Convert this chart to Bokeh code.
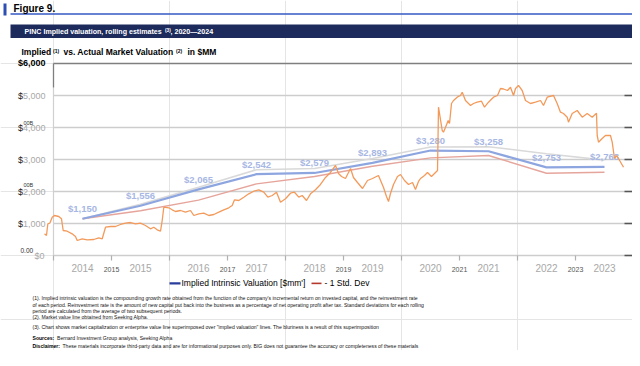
from bokeh.plotting import figure
from bokeh.models import Range1d, Label, BoxAnnotation, ColumnDataSource
from bokeh.core.properties import value
from bokeh.embed import file_html
from bokeh.resources import INLINE

# ---------------- data ----------------
years = ["2014", "2015", "2016", "2017", "2018", "2019", "2020", "2021", "2022", "2023"]
implied = [1150, 1556, 2065, 2542, 2579, 2893, 3280, 3258, 2753, 2768]
minus_sd = [1150, 1400, 1730, 2240, 2470, 2790, 3050, 3125, 2570, 2600]
blur_line = [1150, 1600, 2130, 2680, 2720, 3030, 3390, 3400, 3180, 2980]

mv_date = [2013.845, 2013.879, 2013.902, 2013.936, 2013.978, 2014.017, 2014.091, 2014.138, 2014.167, 2014.236,
           2014.322, 2014.379, 2014.409, 2014.495, 2014.581, 2014.695, 2014.781, 2014.840, 2014.897, 2014.983,
           2015.069, 2015.155, 2015.241, 2015.328, 2015.414, 2015.500, 2015.586, 2015.672, 2015.729, 2015.788,
           2015.845, 2015.874, 2015.902, 2015.988, 2016.047, 2016.103, 2016.190, 2016.276, 2016.362, 2016.419,
           2016.505, 2016.591, 2016.678, 2016.764, 2016.850, 2016.936, 2017.022, 2017.081, 2017.121, 2017.195,
           2017.281, 2017.367, 2017.453, 2017.540, 2017.626, 2017.695, 2017.771, 2017.845, 2017.914, 2018.000,
           2018.086, 2018.155, 2018.229, 2018.288, 2018.362, 2018.431, 2018.517, 2018.603, 2018.690, 2018.776,
           2018.862, 2018.914, 2018.966, 2019.034, 2019.121, 2019.172, 2019.241, 2019.328, 2019.414, 2019.500,
           2019.603, 2019.690, 2019.741, 2019.776, 2019.810, 2019.862, 2019.931, 2019.983, 2020.052, 2020.121,
           2020.190, 2020.241, 2020.293, 2020.328, 2020.397, 2020.448, 2020.517, 2020.569, 2020.621, 2020.638,
           2020.702, 2020.724, 2020.759, 2020.805, 2020.828, 2020.862, 2020.897, 2020.960, 2021.017, 2021.047,
           2021.103, 2021.190, 2021.241, 2021.305, 2021.379, 2021.431, 2021.500, 2021.586, 2021.655, 2021.707,
           2021.759, 2021.828, 2021.879, 2021.931, 2021.966, 2022.017, 2022.081, 2022.138, 2022.224, 2022.310,
           2022.397, 2022.448, 2022.512, 2022.621, 2022.684, 2022.741, 2022.793, 2022.857, 2022.879, 2022.943,
           2023.029, 2023.116, 2023.202, 2023.288, 2023.362, 2023.374, 2023.397, 2023.460, 2023.517, 2023.603,
           2023.633, 2023.672, 2023.707, 2023.741, 2023.828]
mv_value = [678, 625, 990, 1010, 1197, 1250, 1219, 1147, 781, 759,
            678, 594, 469, 522, 491, 500, 553, 522, 884, 906,
            906, 969, 1009, 1031, 991, 1009, 938, 834, 884, 803,
            759, 1094, 1509, 1491, 1428, 1375, 1406, 1353, 1406, 1250,
            1303, 1322, 1250, 1281, 1353, 1428, 1491, 1562, 1741, 1719,
            1822, 1928, 2009, 2053, 1978, 1822, 1875, 1978, 1666, 1772,
            1947, 1978, 1822, 1875, 1719, 1928, 2053, 2219, 2438, 2594,
            2813, 2563, 2469, 2406, 2719, 2438, 2281, 2094, 2344, 2406,
            2500, 2125, 1844, 1688, 1938, 2219, 2469, 2531, 2344, 2219,
            2281, 2063, 2313, 2406, 2500, 2594, 2469, 2563, 2656, 4634,
            3906, 3853, 4009, 4219, 4125, 4750, 4844, 4947, 5000, 5103,
            4844, 4688, 4750, 4791, 4822, 4634, 4791, 4947, 5000, 5219,
            5203, 5156, 5259, 5000, 5219, 5313, 5156, 4844, 4750, 4791,
            4844, 4688, 4947, 5000, 4750, 4478, 4438, 4322, 4166, 4438,
            4531, 4322, 4438, 4322, 4447, 3750, 3541, 3656, 3750, 3750,
            3541, 3031, 3125, 3031, 2759]

grid_vals = [0, 1000, 2000, 3000, 4000, 5000]
grid_num_labels = ["1,000", "2,000", "3,000", "4,000", "5,000"]
minor_year_ticks = [2015, 2017, 2019, 2021, 2023]
minor_year_labels = ["2015", "2017", "2019", "2021", "2023"]
year_bounds = [2014, 2015, 2016, 2017, 2018, 2019, 2020, 2021, 2022, 2023, 2024]

# ---------------- layout helpers (reference pixel -> data) ----------------
W, H = 632, 350
FONT = "Liberation Sans"


def yr(X):
    return 2014 + (X - 53) / 58.0


def vv(Y):
    return (255 - Y) * 1000 / 32.0


def cy(Y):
    # identity over the chart; gentle compression of the notes area below it
    if Y <= 262:
        return Y
    return 262 + (Y - 262) * (349.0 - 262.0) / (362.0 - 262.0)


def fs(s):
    return f"{s:.2f}px"


p = figure(width=W, height=H, x_range=Range1d(yr(0), yr(W)), y_range=Range1d(vv(H), vv(0)),
           output_backend="svg", toolbar_location=None, x_axis_location=None, y_axis_location=None,
           min_border=0, outline_line_color=None, title=None)
p.background_fill_color = "white"
p.border_fill_color = "white"


def txt(X, Y, s, size, color="#000000", bold=False, align="left"):
    p.add_layout(Label(x=yr(X), y=vv(cy(Y)), text=s, text_font=FONT, text_font_size=fs(size),
                       text_color=color, text_font_style="bold" if bold else "normal",
                       text_align=align, text_baseline="middle"))


# ---------------- header ----------------
p.add_layout(BoxAnnotation(left=yr(3), right=yr(6), top=vv(3), bottom=vv(15),
                           fill_color="#2d4fb3", fill_alpha=1, line_color=None))
p.line([yr(10), yr(633)], [vv(13.6), vv(13.6)], line_color="#3557c4", line_width=1.5)
txt(13, 8, "Figure 9.", 10, bold=True)
p.add_layout(BoxAnnotation(left=yr(10), right=yr(632), top=vv(24), bottom=vv(37.5),
                           fill_color="#1c2a5c", fill_alpha=1, line_color=None))
txt(24, 31, "PINC Implied valuation, rolling estimates", 7.1, color="white", bold=True)
txt(164.5, 29.5, "(3)", 4.8, color="white", bold=True)
txt(170, 31, ", 2020\u20142024", 7.1, color="white", bold=True)

txt(21, 51.5, "Implied", 8.5, bold=True)
txt(52.5, 50, "(1)", 5, bold=True)
txt(63, 51.5, "vs. Actual Market Valuation", 8.5, bold=True)
txt(175.5, 50, "(2)", 5, bold=True)
txt(187, 51.5, "in $MM", 8.5, bold=True)

# ---------------- chart frame / grid ----------------
x_end = yr(633)
p.segment(x0=[year_bounds[0]] * len(grid_vals), x1=[x_end] * len(grid_vals), y0=grid_vals, y1=grid_vals,
          line_color="#cdcdcd", line_width=1.4)
p.segment(x0=[year_bounds[0]], x1=[x_end], y0=[6000], y1=[6000], line_color="#7f7f7f", line_width=1.5)
p.segment(x0=[year_bounds[0]], x1=[year_bounds[0]], y0=[0], y1=[vv(87)], line_color="#d0d0d0", line_width=1.2)
p.segment(x0=[year_bounds[0]], x1=[year_bounds[0]], y0=[vv(87)], y1=[6000], line_color="#7f7f7f", line_width=1.3)
p.segment(x0=[yr(624)] * len(grid_vals), x1=[x_end] * len(grid_vals), y0=grid_vals, y1=grid_vals,
          line_color="#555555", line_width=1.5)
p.segment(x0=year_bounds[:-1], x1=year_bounds[:-1], y0=[0] * 10, y1=[vv(260)] * 10,
          line_color="#b0b0b0", line_width=1.2)
p.segment(x0=[year_bounds[-1]], x1=[year_bounds[-1]], y0=[0], y1=[vv(260)], line_color="#555555", line_width=1.5)

# y tick labels
p.text(x=[yr(45)] * 5, y=grid_vals[1:], text=grid_num_labels, text_font=value(FONT), text_font_size=value(fs(9)),
       text_color="#a8a8a8", text_align="right", text_baseline="middle")
p.text(x=[yr(22.5)] * 5, y=grid_vals[1:], text=["$"] * 5, text_font=value(FONT), text_font_size=value(fs(9)),
       text_color="#222222", text_align="right", text_baseline="middle")
txt(45, 62.5, "$6,000", 9, bold=True, align="right")
txt(44, 255.5, "$0", 9, color="#a8a8a8", align="right")
txt(20, 249.5, "0.00", 6.5, color="#333333")
txt(23, 122, "00B", 5.5, color="#333333")
txt(23, 184, "00B", 5.5, color="#333333")

# x tick labels
imp_x = [int(y) + 0.5 for y in years]
p.text(x=imp_x, y=[vv(cy(268))] * len(years), text=years, text_font=value(FONT), text_font_size=value(fs(10)),
       text_color="#a8a8a8", text_align="center", text_baseline="middle")
p.text(x=minor_year_ticks, y=[vv(cy(270.5))] * len(minor_year_ticks), text=minor_year_labels,
       text_font=value(FONT), text_font_size=value(fs(7)), text_color="#555555", text_align="center",
       text_baseline="middle")

# ---------------- series ----------------
p.line(imp_x, blur_line, line_color="#d9d9d9", line_width=1.6)
p.line(imp_x, minus_sd, line_color="#e6a59c", line_width=1.4)
p.line(imp_x, implied, line_color="#8ea6e0", line_width=2.2)
src = ColumnDataSource(dict(x=imp_x, y=implied, t=[f"${v:,}" for v in implied]))
p.text(x="x", y="y", text="t", source=src, y_offset=-10, text_font=value(FONT), text_font_size=value(fs(9.5)),
       text_font_style="bold", text_color="#a7b7e4", text_align="center", text_baseline="middle")
p.line(mv_date, mv_value, line_color="#f39a5b", line_width=1.3)

# ---------------- legend ----------------
p.line([yr(169), yr(180)], [vv(cy(286))] * 2, line_color="#2a3d9c", line_width=2.2)
txt(181, 286, "Implied Intrinsic Valuation [$mm']", 8.5)
p.line([yr(311), yr(321)], [vv(cy(286))] * 2, line_color="#b5382c", line_width=1.6)
txt(324, 286, "- 1 Std. Dev", 8.5)

# ---------------- footnotes ----------------
notes = [
    (303.3, "(1). Implied intrinsic valuation is the compounding growth rate obtained from the function of the company's incremental return on invested capital, and the reinvestment rate"),
    (310.5, "of each period. Reinvestment rate is the amount of new capital put back into the business as a percentage of net operating profit after tax. Standard deviations for each rolling"),
    (317.7, "period are calculated from the average of two subsequent periods."),
    (325.0, "(2). Market value line obtained from Seeking Alpha."),
    (336.7, "(3). Chart shows market capitalization or enterprise value line superimposed over \"implied valuation\" lines. The bluriness is a result of this superimposition"),
]
for yy, s in notes:
    txt(32, yy, s, 5.1, color="#111111")
txt(32, 348.3, "Sources:", 5.1, bold=True)
txt(56.5, 348.3, "Bernard Investment Group analysis, Seeking Alpha", 5.1, color="#111111")
txt(32, 357.7, "Disclaimer:", 5.1, bold=True)
txt(62, 357.7, "These materials incorporate third-party data and are for informational purposes only. BIG does not guarantee the accuracy or completeness of these materials", 5.1, color="#111111")

open("out.html", "w").write(file_html(p, INLINE))
